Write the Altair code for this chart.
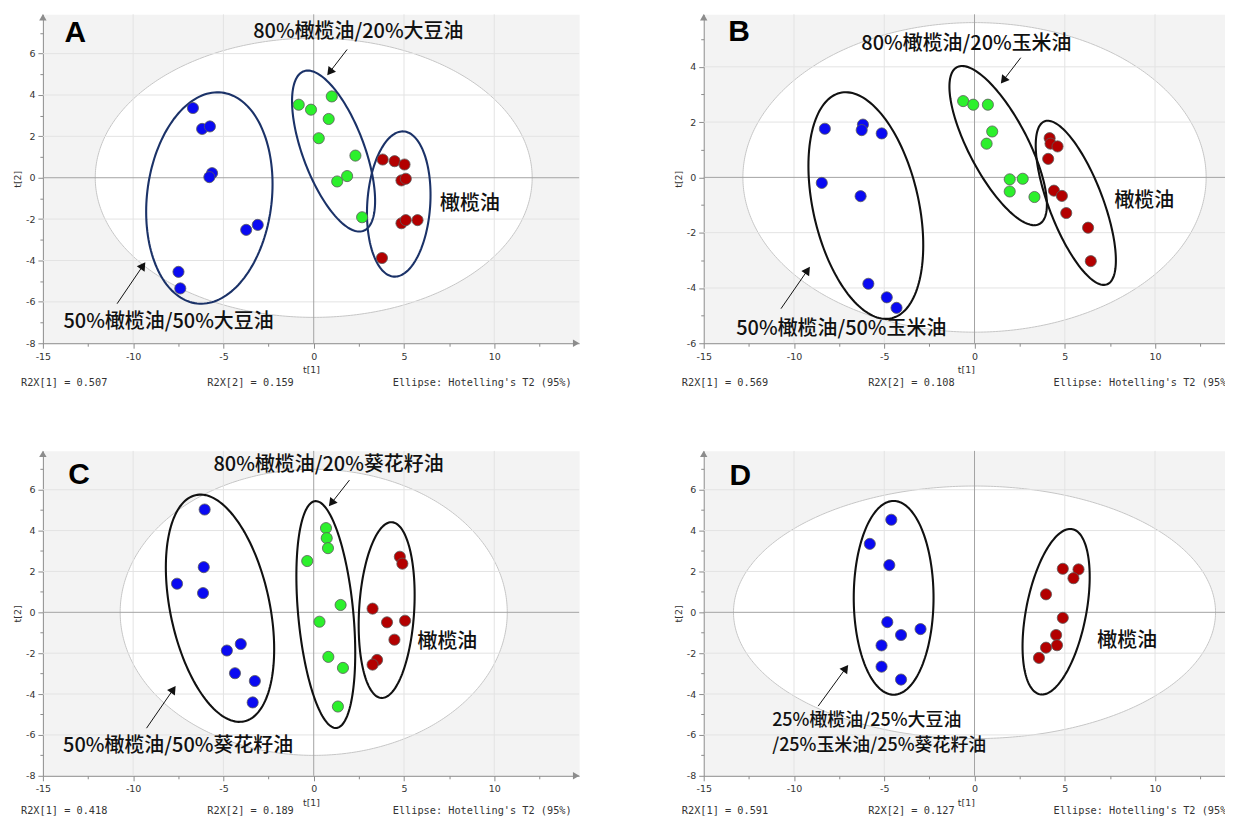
import math
import altair as alt
import pandas as pd

# ---------------- data ----------------
X_TICKS = [-15, -12.5, -10, -7.5, -5, -2.5, 0, 2.5, 5, 7.5, 10, 12.5]
X_GRID = [-10, -5, 5, 10]

A_blue_t1 = [-6.69, -6.18, -5.75, -5.63, -5.78, -3.74, -3.10, -7.49, -7.39]
A_blue_t2 = [3.37, 2.36, 2.48, 0.22, 0.03, -2.52, -2.28, -4.55, -5.35]
A_green_t1 = [-0.83, -0.15, 1.00, 0.83, 0.28, 2.31, 1.85, 1.30, 2.68]
A_green_t2 = [3.53, 3.29, 3.93, 2.84, 1.91, 1.07, 0.08, -0.18, -1.91]
A_red_t1 = [3.82, 4.48, 5.03, 4.86, 5.10, 4.86, 5.10, 5.75, 3.78]
A_red_t2 = [0.88, 0.80, 0.64, -0.13, -0.05, -2.20, -2.05, -2.05, -3.88]

B_blue_t1 = [-8.29, -6.18, -6.25, -5.14, -8.46, -6.31, -5.88, -4.86, -4.32]
B_blue_t2 = [1.76, 1.91, 1.71, 1.59, -0.20, -0.68, -3.85, -4.34, -4.72]
B_green_t1 = [-0.63, -0.07, 0.74, 0.98, 0.67, 1.95, 2.67, 1.95, 3.32]
B_green_t2 = [2.76, 2.63, 2.63, 1.66, 1.22, -0.07, -0.05, -0.51, -0.71]
B_red_t1 = [4.16, 4.21, 4.60, 4.08, 4.40, 4.84, 5.08, 6.29, 6.44]
B_red_t2 = [1.42, 1.22, 1.12, 0.67, -0.48, -0.67, -1.29, -1.82, -3.03]

C_blue_t1 = [-6.04, -6.09, -7.57, -6.13, -4.81, -4.04, -4.36, -3.26, -3.38]
C_blue_t2 = [5.03, 2.21, 1.40, 0.94, -1.87, -1.55, -2.98, -3.36, -4.41]
C_green_t1 = [0.68, 0.72, 0.79, -0.36, 1.49, 0.32, 0.81, 1.62, 1.34]
C_green_t2 = [4.12, 3.63, 3.14, 2.51, 0.36, -0.46, -2.18, -2.72, -4.61]
C_red_t1 = [4.77, 4.91, 3.26, 4.06, 5.06, 4.47, 3.51, 3.26]
C_red_t2 = [2.72, 2.38, 0.18, -0.49, -0.41, -1.34, -2.33, -2.56]

D_blue_t1 = [-4.61, -5.80, -4.72, -4.83, -2.99, -4.07, -5.15, -5.15, -4.07]
D_blue_t2 = [4.53, 3.35, 2.31, -0.48, -0.82, -1.11, -1.62, -2.66, -3.29]
D_red_t1 = [4.89, 5.76, 5.48, 3.96, 4.89, 4.52, 4.57, 3.96, 3.57]
D_red_t2 = [2.13, 2.10, 1.67, 0.88, -0.27, -1.11, -1.61, -1.73, -2.23]

# group ellipses: centre t1, centre t2, half-range t1, half-range t2, tilt (corr)
A_ellipses = [(-5.78, -0.98, 3.50, 5.11, 0.13), (1.10, 1.29, 2.30, 3.89, -0.62), (4.71, -1.27, 1.76, 3.51, 0.125)]
B_ellipses = [(-6.02, -1.02, 3.18, 4.10, -0.35), (1.31, 1.15, 2.70, 2.88, -0.74), (5.61, -0.92, 2.22, 2.97, -0.70)]
C_ellipses = [(-5.19, 0.20, 3.00, 5.56, -0.36), (0.67, -0.11, 1.63, 5.55, -0.34), (4.04, 0.11, 1.55, 4.30, 0.17)]
D_ellipses = [(-4.48, 0.71, 2.21, 4.74, 0.0), (4.52, 0.03, 1.86, 4.05, 0.42)]

# Hotelling T2 (95%) ellipse half-axes
A_hotelling = (12.1, 6.75)
B_hotelling = (12.83, 5.6)
C_hotelling = (10.72, 7.0)
D_hotelling = (13.35, 6.18)

A_r2x = ["R2X[1] = 0.507", "R2X[2] = 0.159"]
B_r2x = ["R2X[1] = 0.569", "R2X[2] = 0.108"]
C_r2x = ["R2X[1] = 0.418", "R2X[2] = 0.189"]
D_r2x = ["R2X[1] = 0.591", "R2X[2] = 0.127"]
ELLIPSE_NOTE = "Ellipse: Hotelling's T2 (95%)"

GROUPS = ["blue", "green", "red"]
FILLS = ["#0a0af2", "#2cf02c", "#b30000"]

# ---------------- layout / annotation positions ----------------
PANELS = {
    "A": dict(w=538, xdom=[-15, 14.7], h=330, ydom=[-8, 7.9], yticks=list(range(-8, 8)),
              ygrid=[-6, -4, -2, 2, 4, 6], foot=40, cut=False,
              pts=[(A_blue_t1, A_blue_t2), (A_green_t1, A_green_t2), (A_red_t1, A_red_t2)],
              ell=A_ellipses, hot=A_hotelling, ellcolor="#1b3268", r2x=A_r2x,
              letter=(-13.8, 7.0),
              texts=[("80%橄榄油/20%大豆油", -3.35, 7.05, 20), ("橄榄油", 7.0, -1.28, 20),
                     ("50%橄榄油/50%大豆油", -13.86, -6.97, 20)],
              arrows=[(1.85, 6.2, 0.72, 4.92), (-10.89, -6.09, -9.30, -4.05)]),
    "B": dict(w=526, xdom=[-15, 14.04], h=330, ydom=[-6, 5.9], yticks=list(range(-6, 6)),
              ygrid=[-4, -2, 2, 4], foot=40, cut=True,
              pts=[(B_blue_t1, B_blue_t2), (B_green_t1, B_green_t2), (B_red_t1, B_red_t2)],
              ell=B_ellipses, hot=B_hotelling, ellcolor="#111111", r2x=B_r2x,
              letter=(-13.64, 5.26),
              texts=[("80%橄榄油/20%玉米油", -6.27, 4.82, 20), ("橄榄油", 7.75, -0.86, 20),
                     ("50%橄榄油/50%玉米油", -13.2, -5.50, 20)],
              arrows=[(2.56, 4.33, 1.43, 3.37), (-10.72, -4.75, -9.09, -3.21)]),
    "C": dict(w=538, xdom=[-15, 14.7], h=326, ydom=[-8, 7.9], yticks=list(range(-8, 8)),
              ygrid=[-6, -4, -2, 2, 4, 6], foot=35, cut=False,
              pts=[(C_blue_t1, C_blue_t2), (C_green_t1, C_green_t2), (C_red_t1, C_red_t2)],
              ell=C_ellipses, hot=C_hotelling, ellcolor="#111111", r2x=C_r2x,
              letter=(-13.6, 6.71),
              texts=[("80%橄榄油/20%葵花籽油", -5.55, 7.23, 20), ("橄榄油", 5.75, -1.43, 20),
                     ("50%橄榄油/50%葵花籽油", -13.88, -6.56, 20)],
              arrows=[(1.98, 6.47, 0.81, 5.15), (-9.26, -5.67, -7.62, -3.57)]),
    "D": dict(w=526, xdom=[-15, 14.04], h=326, ydom=[-8, 7.9], yticks=list(range(-8, 8)),
              ygrid=[-6, -4, -2, 2, 4, 6], foot=35, cut=True,
              pts=[(D_blue_t1, D_blue_t2), ([], []), (D_red_t1, D_red_t2)],
              ell=D_ellipses, hot=D_hotelling, ellcolor="#111111", r2x=D_r2x,
              letter=(-13.57, 6.66),
              texts=[("橄榄油", 6.8, -1.41, 20), ("25%橄榄油/25%大豆油", -11.21, -5.33, 18),
                     ("/25%玉米油/25%葵花籽油", -11.21, -6.54, 18)],
              arrows=[(-8.66, -4.59, -6.97, -2.54)]),
}

CJK = "Noto Sans CJK SC"
TICKFONT = "DejaVu Sans"


def panel(key):
    P = PANELS[key]
    W, H = P["w"], P["h"]
    xdom, ydom = P["xdom"], P["ydom"]
    xs = alt.Scale(domain=xdom, nice=False, zero=False)
    ys = alt.Scale(domain=ydom, nice=False, zero=False)
    xaxis = alt.Axis(values=X_TICKS, grid=False, title="t[1]",
                     labelExpr="datum.value % 5 == 0 ? '' + datum.value : ''",
                     tickSize={"condition": {"test": "datum.value % 5 != 0", "value": 3}, "value": 5},
                     domainColor="#8c8c8c", tickColor="#8c8c8c", labelColor="#333333",
                     labelFont=TICKFONT, labelFontSize=9.5, labelPadding=3,
                     titleFont=TICKFONT, titleFontSize=9.5, titleFontWeight="normal",
                     titleColor="#333333", titlePadding=4, labelFlush=False)
    yaxis = alt.Axis(values=P["yticks"], grid=False, title="t[2]",
                     labelExpr="datum.value % 2 == 0 ? '' + datum.value : ''",
                     tickSize={"condition": {"test": "datum.value % 2 != 0", "value": 3}, "value": 5},
                     domainColor="#8c8c8c", tickColor="#8c8c8c", labelColor="#333333",
                     labelFont=TICKFONT, labelFontSize=9.5, labelPadding=3,
                     titleFont=TICKFONT, titleFontSize=9.5, titleFontWeight="normal",
                     titleColor="#333333", titlePadding=3, labelFlush=False)

    def ex(f):
        return alt.X(f, type="quantitative", scale=xs, axis=xaxis)

    def ey(f):
        return alt.Y(f, type="quantitative", scale=ys, axis=yaxis)

    # Hotelling ellipse (white fill)
    hx, hy = P["hot"]
    rows = []
    n = 241
    for i in range(n):
        t = math.pi - math.pi * i / (n - 1)
        rows.append({"x": hx * math.cos(t), "y": hy * math.sin(t), "y2": -hy * math.sin(t)})
    hot = alt.Chart(pd.DataFrame(rows)).mark_area(
        color="white", stroke="#c6c6c6", strokeWidth=1, opacity=1
    ).encode(x=ex("x"), y=ey("y"), y2=alt.Y2("y2"))

    vgrid = alt.Chart(pd.DataFrame({"v": X_GRID})).mark_rule(color="#e3e3e3", strokeWidth=1).encode(x=ex("v"))
    hgrid = alt.Chart(pd.DataFrame({"v": P["ygrid"]})).mark_rule(color="#e3e3e3", strokeWidth=1).encode(y=ey("v"))
    zx = alt.Chart(pd.DataFrame({"v": [0]})).mark_rule(color="#a3a3a3", strokeWidth=1).encode(x=ex("v"))
    zy = alt.Chart(pd.DataFrame({"v": [0]})).mark_rule(color="#a3a3a3", strokeWidth=1).encode(y=ey("v"))

    # group ellipses
    erows = []
    for g, (cx, cy, X, Y, rho) in enumerate(P["ell"]):
        s = math.sqrt(1 - rho * rho)
        m = 160
        for i in range(m + 1):
            t = 2 * math.pi * i / m
            erows.append({"x": cx + X * math.cos(t), "y": cy + Y * (rho * math.cos(t) + s * math.sin(t)),
                          "g": g, "i": i})
    ell = alt.Chart(pd.DataFrame(erows)).mark_line(
        color=P["ellcolor"], strokeWidth=2.1
    ).encode(x=ex("x"), y=ey("y"), detail="g:N", order="i:Q")

    # points
    prow = []
    for gname, (t1, t2) in zip(GROUPS, P["pts"]):
        for a, b in zip(t1, t2):
            prow.append({"t1": a, "t2": b, "grp": gname})
    pts = alt.Chart(pd.DataFrame(prow)).mark_point(
        filled=True, size=125, opacity=1, stroke="#5a5a5a", strokeWidth=0.8
    ).encode(x=ex("t1"), y=ey("t2"),
             fill=alt.Fill("grp:N", scale=alt.Scale(domain=GROUPS, range=FILLS), legend=None))

    # arrows
    sx = W / (xdom[1] - xdom[0])
    sy = H / (ydom[1] - ydom[0])
    arows = []
    hrows = []
    for (x1, y1, x2, y2) in P["arrows"]:
        dxp = (x2 - x1) * sx
        dyp = -(y2 - y1) * sy
        L = math.hypot(dxp, dyp)
        ux, uy = dxp / L, dyp / L
        back = 5.0
        hxp = x2 - ux * back / sx
        hyp = y2 + uy * back / sy
        arows.append({"x1": x1, "y1": y1, "x2": hxp, "y2": hyp})
        ang = math.degrees(math.atan2(ux, -uy)) % 360
        hrows.append({"x": hxp, "y": hyp, "ang": ang})
    shafts = alt.Chart(pd.DataFrame(arows)).mark_rule(color="#111111", strokeWidth=1).encode(
        x=ex("x1"), y=ey("y1"), x2=alt.X2("x2"), y2=alt.Y2("y2"))
    heads = alt.Chart(pd.DataFrame(hrows)).mark_point(
        shape="triangle-up", filled=True, size=90, color="#111111", opacity=1
    ).encode(x=ex("x"), y=ey("y"), angle=alt.Angle("ang:Q", scale=None))

    # texts
    trows = [{"x": x, "y": y, "s": s, "fs": fs} for (s, x, y, fs) in P["texts"]]
    texts = alt.Chart(pd.DataFrame(trows)).mark_text(
        font=CJK, fontWeight=500, align="left", baseline="middle", color="#111111"
    ).encode(x=ex("x"), y=ey("y"), text="s:N", size=alt.Size("fs:Q", scale=None, legend=None))
    lx, ly = P["letter"]
    letter = alt.Chart(pd.DataFrame({"x": [lx], "y": [ly], "s": [key]})).mark_text(
        font="Liberation Sans", fontSize=30, fontWeight="bold", align="left", baseline="middle", color="#000000"
    ).encode(x=ex("x"), y=ey("y"), text="s:N")

    # footers
    fdf = pd.DataFrame({"a": [P["r2x"][0]], "b": [P["r2x"][1]], "c": [ELLIPSE_NOTE]})
    fbase = alt.Chart(fdf)
    fstyle = dict(font="DejaVu Sans Mono", fontSize=10.3, align="left", baseline="middle", color="#333333")
    fy = H + P["foot"]
    f1 = fbase.mark_text(**fstyle).encode(x=alt.value(-22), y=alt.value(fy), text="a:N")
    f2 = fbase.mark_text(**fstyle).encode(x=alt.value(165), y=alt.value(fy), text="b:N")
    f3 = fbase.mark_text(**fstyle).encode(x=alt.value(351), y=alt.value(fy), text="c:N")

    # axis arrow heads
    up = fbase.mark_point(shape="triangle-up", filled=True, size=55, color="#8c8c8c", opacity=1).encode(
        x=alt.value(0), y=alt.value(3))
    layers = [hot, vgrid, hgrid, zx, zy, ell, pts, shafts, heads, texts, letter, f1, f2, f3, up]
    if not P["cut"]:
        right = fbase.mark_point(shape="triangle-right", filled=True, size=55, color="#8c8c8c", opacity=1).encode(
            x=alt.value(W - 3), y=alt.value(H))
        layers.append(right)
    return alt.layer(*layers).properties(width=W, height=H)


row1 = alt.hconcat(panel("A"), panel("B"), spacing=93)
row2 = alt.hconcat(panel("C"), panel("D"), spacing=93)
chart = alt.vconcat(row1, row2, spacing=61).properties(
    padding={"left": 4, "top": 4, "right": -9, "bottom": 0}
).configure_view(fill="#f3f3f3", stroke="transparent")

chart.save("out.html", embed_options={"renderer": "svg", "actions": False})
